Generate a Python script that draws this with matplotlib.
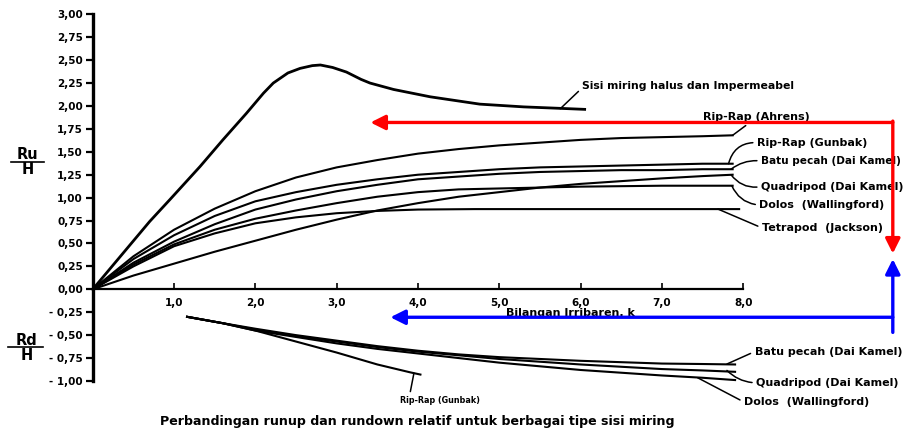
import numpy as np
import matplotlib.pyplot as plt

plt.rcParams['font.family'] = ['DejaVu Sans']

# Runup (Ru/H) terhadap bilangan Irribaren k
k_sisi = [0, 0.35, 0.7, 0.95, 1.32, 1.6, 1.89, 2.1, 2.22, 2.4, 2.55, 2.7, 2.8,
          2.95, 3.12, 3.3, 3.41, 3.7, 4.15, 4.76, 5.3, 5.75, 6.05]
ru_sisi = [0, 0.37, 0.74, 0.98, 1.34, 1.63, 1.92, 2.14, 2.25, 2.36, 2.41, 2.44,
           2.447, 2.42, 2.37, 2.29, 2.25, 2.18, 2.10, 2.02, 1.99, 1.974, 1.963]

k_fan = [0, 0.5, 1.0, 1.5, 2.0, 2.5, 3.0, 3.5, 4.0, 4.5, 5.0, 5.5, 6.0, 6.5, 7.0, 7.5, 7.87]
ru_ahrens = [0, 0.36, 0.65, 0.88, 1.07, 1.22, 1.33, 1.41, 1.48, 1.53, 1.57, 1.60, 1.63, 1.65, 1.66, 1.67, 1.68]
ru_gunbak = [0, 0.33, 0.59, 0.80, 0.96, 1.06, 1.14, 1.20, 1.25, 1.28, 1.31, 1.33, 1.34, 1.35, 1.36, 1.37, 1.37]
ru_batu = [0, 0.29, 0.52, 0.71, 0.87, 0.98, 1.07, 1.14, 1.20, 1.23, 1.26, 1.28, 1.29, 1.30, 1.30, 1.31, 1.31]
ru_dolos = [0, 0.27, 0.49, 0.65, 0.77, 0.86, 0.94, 1.01, 1.06, 1.09, 1.10, 1.11, 1.12, 1.125, 1.13, 1.13, 1.13]
ru_quad = [0, 0.15, 0.28, 0.41, 0.53, 0.65, 0.76, 0.86, 0.94, 1.01, 1.06, 1.11, 1.15, 1.18, 1.21, 1.235, 1.25]

k_tetra = [0, 0.5, 1.0, 1.5, 2.0, 2.5, 3.0, 3.5, 4.0, 4.7, 7.95]
ru_tetra = [0, 0.25, 0.47, 0.61, 0.72, 0.785, 0.83, 0.855, 0.87, 0.875, 0.875]

# Rundown (Rd/H)
k_rd = [1.16, 1.6, 2.0, 2.5, 3.0, 3.5, 4.0, 4.5, 5.0, 5.5, 6.0, 6.5, 7.0, 7.5, 7.9]
rd_batu = [-0.30, -0.37, -0.43, -0.50, -0.56, -0.62, -0.67, -0.71, -0.74, -0.76, -0.78, -0.795, -0.81, -0.815, -0.82]
rd_quad = [-0.30, -0.37, -0.44, -0.51, -0.57, -0.63, -0.68, -0.72, -0.76, -0.79, -0.82, -0.845, -0.87, -0.885, -0.90]
rd_dolos = [-0.30, -0.37, -0.45, -0.52, -0.59, -0.65, -0.70, -0.75, -0.80, -0.84, -0.88, -0.91, -0.94, -0.965, -0.99]
k_rd_gunbak = [1.16, 1.6, 2.0, 2.5, 3.0, 3.5, 3.9, 4.03]
rd_gunbak = [-0.30, -0.37, -0.45, -0.57, -0.69, -0.82, -0.905, -0.93]

y_ticks = np.arange(-1.0, 3.01, 0.25)
y_labels = ['- 1,00', '- 0,75', '- 0,50', '- 0,25', '0,00', '0,25', '0,50', '0,75',
            '1,00', '1,25', '1,50', '1,75', '2,00', '2,25', '2,50', '2,75', '3,00']
x_ticks = [1, 2, 3, 4, 5, 6, 7, 8]
x_labels = ['1,0', '2,0', '3,0', '4,0', '5,0', '6,0', '7,0', '8,0']

fig = plt.figure(figsize=(9.05, 4.28), dpi=100)
ax = fig.add_axes([0, 0, 1, 1])
ax.set_xlim(-1.141, 9.99)
ax.set_ylim(-1.513, 3.156)

for s in ['top', 'right']:
    ax.spines[s].set_visible(False)
ax.spines['left'].set_position(('data', 0))
ax.spines['left'].set_bounds(-1, 3)
ax.spines['left'].set_linewidth(2.4)
ax.spines['bottom'].set_position(('data', 0))
ax.spines['bottom'].set_bounds(0, 8)
ax.spines['bottom'].set_linewidth(1.6)

ax.set_yticks(y_ticks, y_labels, fontsize=7.5, fontweight='bold')
ax.set_xticks(x_ticks, x_labels, fontsize=7.5, fontweight='bold')
ax.tick_params(axis='y', direction='out', length=5, width=1.6, pad=2)
ax.tick_params(axis='x', direction='in', length=4, width=1.2, pad=6)

lw = 1.5
ax.plot(k_sisi, ru_sisi, color='black', lw=2.0)
ax.plot(k_fan, ru_ahrens, color='black', lw=lw)
ax.plot(k_fan, ru_gunbak, color='black', lw=lw)
ax.plot(k_fan, ru_batu, color='black', lw=lw)
ax.plot(k_fan, ru_dolos, color='black', lw=lw)
ax.plot(k_fan, ru_quad, color='black', lw=lw)
ax.plot(k_tetra, ru_tetra, color='black', lw=lw)

ax.plot(k_rd, rd_batu, color='black', lw=lw)
ax.plot(k_rd, rd_quad, color='black', lw=lw)
ax.plot(k_rd, rd_dolos, color='black', lw=lw)
ax.plot(k_rd_gunbak, rd_gunbak, color='black', lw=lw)

# label kurva dengan garis penunjuk
lab = dict(fontsize=8, fontweight='bold', va='center', ha='left')


def label(txt, xy, xytext, rad, relpos=(0, 0.5), **kw):
    opts = dict(lab)
    opts.update(kw)
    ax.annotate(txt, xy=xy, xytext=xytext,
                arrowprops=dict(arrowstyle='-', lw=1.1, color='black', relpos=relpos,
                                shrinkA=1, shrinkB=0,
                                connectionstyle='arc3,rad=%s' % rad), **opts)


label('Sisi miring halus dan Impermeabel', (5.75, 1.97), (6.02, 2.22), 0.0,
      relpos=(0, 0.3), fontweight='semibold', fontsize=7.8)
label('Rip-Rap (Ahrens)', (7.87, 1.68), (7.5, 1.88), 0.0, relpos=(0.45, 0))
label('Rip-Rap (Gunbak)', (7.82, 1.37), (8.17, 1.60), 0.4)
label('Batu pecah (Dai Kamel)', (7.85, 1.31), (8.22, 1.40), 0.2, fontsize=7.6)
label('Quadripod (Dai Kamel)', (7.85, 1.25), (8.22, 1.12), -0.3)
label('Dolos  (Wallingford)', (7.86, 1.13), (8.2, 0.92), -0.3)
label('Tetrapod  (Jackson)', (7.69, 0.875), (8.23, 0.67), 0.0)

label('Batu pecah (Dai Kamel)', (7.8, -0.815), (8.14, -0.68), 0.0)
label('Quadripod (Dai Kamel)', (7.8, -0.885), (8.16, -1.02), -0.2)
label('Dolos  (Wallingford)', (7.44, -0.965), (8.01, -1.23), 0.0)
label('Rip-Rap (Gunbak)', (3.95, -0.915), (4.27, -1.21), 0.0,
      relpos=(0.12, 1), ha='center', fontsize=5.8)

ax.text(5.88, -0.26, 'Bilangan Irribaren, k', fontsize=8, fontweight='bold',
        ha='center', va='center')
ax.text(3.99, -1.44, 'Perbandingan runup dan rundown relatif untuk berbagai tipe sisi miring',
        fontsize=9.1, fontweight='bold', ha='center', va='center')

# Ru/H dan Rd/H
ax.text(-0.8, 1.47, 'Ru', fontsize=10.5, fontweight='bold', ha='center', va='center')
ax.plot([-1.0, -0.6], [1.39, 1.39], color='black', lw=1.2)
ax.text(-0.8, 1.31, 'H', fontsize=10.5, fontweight='bold', ha='center', va='center')
ax.text(-0.81, -0.555, 'Rd', fontsize=10.5, fontweight='bold', ha='center', va='center')
ax.plot([-1.04, -0.61], [-0.625, -0.625], color='black', lw=1.2)
ax.text(-0.81, -0.72, 'H', fontsize=10.5, fontweight='bold', ha='center', va='center')

# panah merah dan biru
arr_red = dict(arrowstyle='-|>', color='red', lw=2.4, mutation_scale=22, shrinkA=0, shrinkB=0)
arr_blue = dict(arrowstyle='-|>', color='blue', lw=2.4, mutation_scale=22, shrinkA=0, shrinkB=0)
ax.annotate('', xy=(3.415, 1.82), xytext=(9.84, 1.82), arrowprops=arr_red)
ax.annotate('', xy=(9.84, 0.39), xytext=(9.84, 1.835), arrowprops=arr_red)
ax.annotate('', xy=(9.84, 0.33), xytext=(9.84, -0.47), arrowprops=arr_blue)
ax.annotate('', xy=(3.66, -0.305), xytext=(9.84, -0.305), arrowprops=arr_blue)

fig.savefig('out.png', dpi=100)
